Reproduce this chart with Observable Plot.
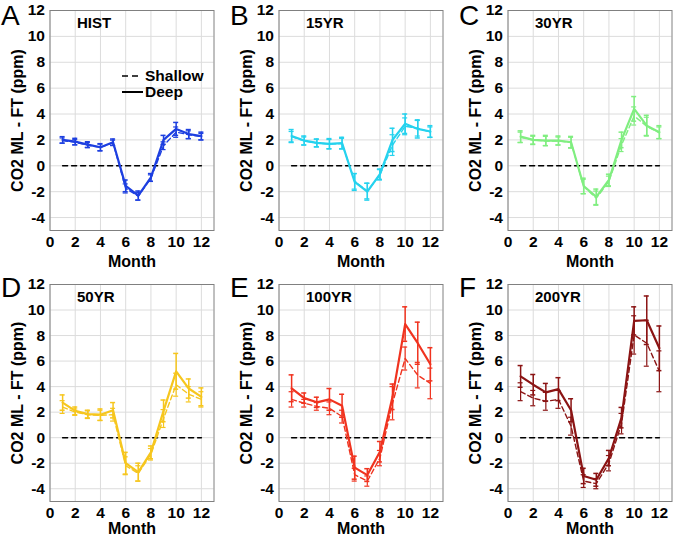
<!DOCTYPE html>
<html>
<head>
<meta charset="utf-8">
<script src="https://cdn.jsdelivr.net/npm/d3@7"></script>
<script src="https://cdn.jsdelivr.net/npm/@observablehq/plot@0.6"></script>
<style>
  html, body { margin: 0; padding: 0; background: #fff; overflow: hidden; }
  #root { position: relative; width: 677px; height: 538px; overflow: hidden; background: #fff; }
  .panel { position: absolute; width: 229px; height: 269px; }
  .panel svg { max-width: none !important; }
  .letter { position: absolute; font-family: "Liberation Sans", Arial, sans-serif; font-size: 28px; line-height: normal; color: #000; }
  svg [aria-label="x-axis label"], svg [aria-label="y-axis label"] { font-size: 16px; }
</style>
</head>
<body>
<div id="root"></div>
<script>
// ---- data ----
const months = [1, 2, 3, 4, 5, 6, 7, 8, 9, 10, 11, 12];
const xTicks = [0, 2, 4, 6, 8, 10, 12];
const yTicks = [-4, -2, 0, 2, 4, 6, 8, 10, 12];
const panelLetters = ["A", "B", "C", "D", "E", "F"];
const panelTitles = ["HIST", "15YR", "30YR", "50YR", "100YR", "200YR"];
const panelColors = ["#1d3fe0", "#25d2ee", "#80ee80", "#f6c61e", "#f0331f", "#8b1414"];
const legendLabels = ["Shallow", "Deep"];

const histDeep = [2.0, 1.87, 1.64, 1.43, 1.82, -1.55, -2.3, -0.9, 2.0, 2.85, 2.45, 2.3];
const histDeepErr = [0.25, 0.25, 0.22, 0.28, 0.25, 0.45, 0.35, 0.3, 0.35, 0.5, 0.35, 0.3];
const histShallow = [1.95, 1.82, 1.6, 1.42, 1.78, -1.75, -2.35, -0.95, 1.55, 2.6, 2.4, 2.25];
const histShallowErr = [0.2, 0.2, 0.2, 0.25, 0.2, 0.35, 0.3, 0.25, 0.3, 0.4, 0.3, 0.25];

const yr15Deep = [2.3, 1.95, 1.77, 1.7, 1.75, -1.25, -2.0, -0.65, 2.0, 3.25, 2.85, 2.65];
const yr15DeepErr = [0.5, 0.35, 0.3, 0.4, 0.45, 0.65, 0.65, 0.4, 0.9, 0.75, 0.7, 0.45];
const yr15Shallow = [2.25, 1.92, 1.75, 1.68, 1.72, -1.2, -1.95, -0.7, 1.6, 3.05, 2.9, 2.6];
const yr15ShallowErr = [0.4, 0.3, 0.3, 0.35, 0.4, 0.6, 0.6, 0.4, 0.8, 0.65, 0.6, 0.4];

const yr30Deep = [2.25, 2.0, 1.95, 1.95, 1.82, -1.56, -2.4, -1.1, 2.0, 4.4, 3.1, 2.6];
const yr30DeepErr = [0.45, 0.35, 0.4, 0.35, 0.45, 0.6, 0.6, 0.45, 0.6, 0.95, 0.8, 0.5];
const yr30Shallow = [2.2, 1.98, 1.92, 1.92, 1.8, -1.6, -2.5, -1.2, 1.6, 3.85, 3.05, 2.55];
const yr30ShallowErr = [0.4, 0.3, 0.35, 0.3, 0.4, 0.55, 0.55, 0.4, 0.5, 0.7, 0.7, 0.45];

const yr50Deep = [2.75, 2.1, 1.85, 1.8, 2.15, -2.0, -2.7, -1.15, 2.1, 5.2, 3.85, 3.2];
const yr50DeepErr = [0.6, 0.3, 0.3, 0.45, 0.6, 0.85, 0.7, 0.5, 0.85, 1.4, 0.75, 0.7];
const yr50Shallow = [2.4, 2.0, 1.8, 1.75, 1.8, -2.2, -2.8, -1.3, 1.5, 4.15, 3.4, 3.0];
const yr50ShallowErr = [0.5, 0.25, 0.3, 0.4, 0.5, 0.7, 0.6, 0.45, 0.7, 0.9, 0.6, 0.6];

const yr100Deep = [3.87, 3.1, 2.77, 3.0, 2.5, -2.35, -2.93, -1.1, 3.2, 8.9, 7.4, 5.75];
const yr100DeepErr = [1.05, 0.4, 0.4, 0.85, 0.9, 0.9, 0.5, 0.8, 1.0, 1.35, 1.65, 1.3];
const yr100Shallow = [3.0, 2.7, 2.45, 2.3, 1.65, -2.9, -3.4, -1.6, 2.7, 6.2, 4.9, 4.25];
const yr100ShallowErr = [0.6, 0.3, 0.3, 0.5, 0.5, 0.5, 0.4, 0.6, 1.3, 0.9, 1.0, 1.2];

const yr200Deep = [4.8, 4.15, 3.55, 3.8, 2.15, -3.0, -3.3, -1.6, 1.57, 9.15, 9.2, 7.0];
const yr200DeepErr = [0.85, 0.8, 0.7, 0.9, 0.9, 0.6, 0.5, 0.6, 0.8, 1.1, 1.9, 1.75];
const yr200Shallow = [3.6, 3.1, 2.85, 3.0, 0.9, -3.4, -3.6, -2.0, 1.1, 8.05, 7.4, 5.2];
const yr200ShallowErr = [0.7, 0.6, 0.7, 0.7, 0.7, 0.5, 0.4, 0.6, 0.8, 1.5, 1.8, 1.6];

const deepSeries = [histDeep, yr15Deep, yr30Deep, yr50Deep, yr100Deep, yr200Deep];
const deepErrSeries = [histDeepErr, yr15DeepErr, yr30DeepErr, yr50DeepErr, yr100DeepErr, yr200DeepErr];
const shallowSeries = [histShallow, yr15Shallow, yr30Shallow, yr50Shallow, yr100Shallow, yr200Shallow];
const shallowErrSeries = [histShallowErr, yr15ShallowErr, yr30ShallowErr, yr50ShallowErr, yr100ShallowErr, yr200ShallowErr];

// ---- layout ----
const root = document.getElementById("root");
const FONT = "'Liberation Sans', Arial, Helvetica, sans-serif";
const colLeft = [0, 229, 458];
const rowTop = [0, 269];
const rowMargins = [{top: 10, bottom: 39, labelOffset: 36}, {top: 15, bottom: 37, labelOffset: 32}];
const capHalf = 0.2;

function makePanel(i) {
  const col = i % 3, row = Math.floor(i / 3);
  const color = panelColors[i];
  const mk = (vals, errs) => months.map((m, j) => ({m, v: vals[j], lo: vals[j] - errs[j], hi: vals[j] + errs[j]}));
  const deep = mk(deepSeries[i], deepErrSeries[i]);
  const shallow = mk(shallowSeries[i], shallowErrSeries[i]);
  const zero = months.map(m => ({m, v: 0}));
  const errMarks = (data, sw) => [
    Plot.ruleX(data, {x: "m", y1: "lo", y2: "hi", stroke: color, strokeWidth: sw}),
    Plot.ruleY(data, {y: "lo", x1: d => d.m - capHalf, x2: d => d.m + capHalf, stroke: color, strokeWidth: sw}),
    Plot.ruleY(data, {y: "hi", x1: d => d.m - capHalf, x2: d => d.m + capHalf, stroke: color, strokeWidth: sw})
  ];
  const chart = Plot.plot({
    width: 229,
    height: 269,
    marginLeft: 49.5,
    marginRight: 15.5,
    marginTop: rowMargins[row].top,
    marginBottom: rowMargins[row].bottom,
    x: {domain: [0, 13]},
    y: {domain: [-5, 12]},
    style: {fontFamily: FONT, fontWeight: "bold", fontSize: "15px", background: "#fff", color: "#000", overflow: "visible"},
    marks: [
      Plot.gridX(xTicks, {stroke: "#dcdcdc", strokeOpacity: 1}),
      Plot.gridY(yTicks, {stroke: "#dcdcdc", strokeOpacity: 1}),
      Plot.frame({stroke: "#808080"}),
      Plot.axisX(xTicks, {tickSize: 0, tickPadding: 5, fontSize: 15.5, tickFormat: d => String(d), label: "Month", labelAnchor: "center", labelOffset: rowMargins[row].labelOffset, labelArrow: "none"}),
      Plot.axisY(yTicks, {tickSize: 0, tickPadding: 5, fontSize: 15.5, tickFormat: d => String(d), label: "CO2 ML - FT (ppm)", labelAnchor: "center", labelOffset: 38, labelArrow: "none"}),
      Plot.line(zero, {x: "m", y: "v", stroke: "#000", strokeWidth: 1.5, strokeDasharray: "5,4"}),
      ...errMarks(shallow, 1.2),
      Plot.line(shallow, {x: "m", y: "v", stroke: color, strokeWidth: 1.4, strokeDasharray: "5,3"}),
      ...errMarks(deep, 1.5),
      Plot.line(deep, {x: "m", y: "v", stroke: color, strokeWidth: 2.2}),
      Plot.text([panelTitles[i]], {frameAnchor: "top-left", text: d => d, textAnchor: "start", lineAnchor: "top", dx: 27, dy: 7, fontSize: 15, fontWeight: "bold", fill: "#000"})
    ]
  });
  const wrap = document.createElement("div");
  wrap.className = "panel";
  wrap.style.left = colLeft[col] + "px";
  wrap.style.top = rowTop[row] + "px";
  wrap.appendChild(chart);
  root.appendChild(wrap);

  const letter = document.createElement("div");
  letter.className = "letter";
  letter.textContent = panelLetters[i];
  letter.style.left = (colLeft[col] + 1) + "px";
  letter.style.top = (row === 0 ? 0 : 272) + "px";
  root.appendChild(letter);
}

for (let i = 0; i < 6; i++) makePanel(i);

// legend in panel A
const ns = "http://www.w3.org/2000/svg";
const leg = document.createElementNS(ns, "svg");
leg.setAttribute("width", 100);
leg.setAttribute("height", 34);
leg.style.position = "absolute";
leg.style.left = "120px";
leg.style.top = "67px";
leg.innerHTML =
  `<line x1="2" x2="22" y1="9" y2="9" stroke="#000" stroke-width="1.5" stroke-dasharray="6,4"/>` +
  `<text x="25" y="14" font-family="${FONT.replace(/"/g, "")}" font-weight="bold" font-size="15.5">${legendLabels[0]}</text>` +
  `<line x1="2" x2="23" y1="25" y2="25" stroke="#000" stroke-width="2"/>` +
  `<text x="25" y="30" font-family="${FONT.replace(/"/g, "")}" font-weight="bold" font-size="15.5">${legendLabels[1]}</text>`;
leg.setAttribute("overflow", "visible");
root.appendChild(leg);
</script>
</body>
</html>
